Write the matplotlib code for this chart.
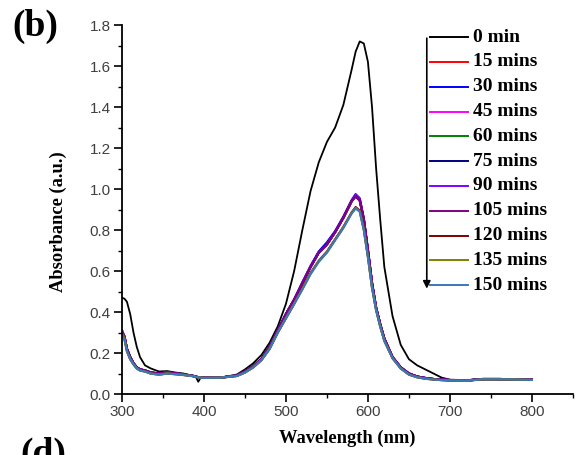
import matplotlib
matplotlib.use("Agg")
import matplotlib.pyplot as plt
from matplotlib.ticker import MultipleLocator, FormatStrFormatter

# wavelength grid (nm) used for every spectrum
wavelength = [300, 303, 306, 310, 314, 318, 322, 328, 335, 345, 355, 365, 375, 385,
              390, 393, 396, 400, 420, 440, 450, 460, 470, 480, 490, 500, 510, 520,
              530, 540, 550, 560, 570, 580, 585, 590, 595, 600, 605, 610, 615, 620,
              630, 640, 650, 660, 670, 680, 690, 700, 720, 740, 760, 780, 800]

abs_0 = [0.47, 0.465, 0.45, 0.39, 0.30, 0.23, 0.18, 0.14, 0.125, 0.11, 0.112, 0.105, 0.10, 0.09,
         0.085, 0.06, 0.08, 0.08, 0.08, 0.095, 0.12, 0.15, 0.19, 0.25, 0.33, 0.44, 0.60, 0.80,
         0.99, 1.13, 1.23, 1.30, 1.41, 1.58, 1.67, 1.72, 1.71, 1.62, 1.40, 1.10, 0.85, 0.62,
         0.38, 0.24, 0.17, 0.14, 0.12, 0.10, 0.08, 0.07, 0.068, 0.072, 0.072, 0.071, 0.07]

abs_15 = [0.31, 0.28, 0.22, 0.18, 0.15, 0.13, 0.12, 0.115, 0.105, 0.10, 0.105, 0.10, 0.095, 0.09,
          0.085, 0.082, 0.08, 0.08, 0.08, 0.09, 0.11, 0.135, 0.17, 0.23, 0.31, 0.39, 0.46, 0.54,
          0.62, 0.69, 0.735, 0.79, 0.86, 0.94, 0.97, 0.95, 0.85, 0.70, 0.54, 0.42, 0.34, 0.27,
          0.18, 0.13, 0.10, 0.085, 0.078, 0.073, 0.07, 0.068, 0.066, 0.073, 0.073, 0.072, 0.07]

abs_30 = [0.31, 0.28, 0.22, 0.18, 0.15, 0.13, 0.12, 0.115, 0.105, 0.10, 0.105, 0.10, 0.095, 0.09,
          0.085, 0.082, 0.08, 0.08, 0.08, 0.09, 0.11, 0.135, 0.17, 0.23, 0.31, 0.39, 0.46, 0.545,
          0.625, 0.695, 0.74, 0.795, 0.865, 0.945, 0.975, 0.955, 0.855, 0.70, 0.54, 0.42, 0.34, 0.27,
          0.18, 0.13, 0.10, 0.085, 0.078, 0.073, 0.07, 0.068, 0.066, 0.073, 0.073, 0.072, 0.07]

abs_45 = [0.31, 0.28, 0.22, 0.18, 0.15, 0.13, 0.12, 0.115, 0.105, 0.10, 0.105, 0.10, 0.095, 0.09,
          0.085, 0.082, 0.08, 0.08, 0.08, 0.09, 0.11, 0.135, 0.17, 0.23, 0.31, 0.39, 0.46, 0.54,
          0.62, 0.69, 0.73, 0.79, 0.86, 0.94, 0.97, 0.95, 0.85, 0.70, 0.54, 0.42, 0.34, 0.27,
          0.18, 0.13, 0.10, 0.085, 0.078, 0.073, 0.07, 0.068, 0.066, 0.073, 0.073, 0.072, 0.07]

abs_60 = [0.30, 0.28, 0.22, 0.18, 0.15, 0.13, 0.12, 0.115, 0.105, 0.10, 0.105, 0.10, 0.095, 0.09,
          0.085, 0.082, 0.08, 0.08, 0.08, 0.09, 0.11, 0.135, 0.17, 0.23, 0.31, 0.39, 0.46, 0.54,
          0.62, 0.69, 0.73, 0.79, 0.86, 0.94, 0.968, 0.948, 0.85, 0.70, 0.54, 0.42, 0.34, 0.27,
          0.18, 0.13, 0.10, 0.085, 0.078, 0.073, 0.07, 0.068, 0.066, 0.073, 0.073, 0.072, 0.07]

abs_75 = [0.30, 0.28, 0.22, 0.18, 0.15, 0.13, 0.12, 0.115, 0.105, 0.10, 0.105, 0.10, 0.095, 0.09,
          0.085, 0.082, 0.08, 0.08, 0.08, 0.09, 0.11, 0.135, 0.17, 0.23, 0.31, 0.39, 0.46, 0.54,
          0.62, 0.69, 0.73, 0.79, 0.86, 0.94, 0.966, 0.946, 0.85, 0.70, 0.54, 0.42, 0.34, 0.27,
          0.18, 0.13, 0.10, 0.085, 0.078, 0.073, 0.07, 0.068, 0.066, 0.073, 0.073, 0.072, 0.07]

abs_90 = [0.30, 0.28, 0.22, 0.18, 0.15, 0.13, 0.12, 0.115, 0.105, 0.10, 0.105, 0.10, 0.095, 0.09,
          0.085, 0.082, 0.08, 0.08, 0.08, 0.09, 0.11, 0.135, 0.17, 0.23, 0.31, 0.39, 0.46, 0.54,
          0.62, 0.69, 0.73, 0.79, 0.86, 0.94, 0.965, 0.945, 0.85, 0.70, 0.54, 0.42, 0.34, 0.27,
          0.18, 0.13, 0.10, 0.085, 0.078, 0.073, 0.07, 0.068, 0.066, 0.073, 0.073, 0.072, 0.07]

abs_105 = [0.30, 0.28, 0.22, 0.18, 0.15, 0.13, 0.12, 0.115, 0.105, 0.10, 0.105, 0.10, 0.095, 0.09,
           0.085, 0.082, 0.08, 0.08, 0.08, 0.09, 0.11, 0.135, 0.17, 0.23, 0.31, 0.39, 0.46, 0.54,
           0.62, 0.69, 0.73, 0.79, 0.86, 0.94, 0.963, 0.943, 0.85, 0.70, 0.54, 0.42, 0.34, 0.27,
           0.18, 0.13, 0.10, 0.085, 0.078, 0.073, 0.07, 0.068, 0.066, 0.073, 0.073, 0.072, 0.07]

abs_120 = [0.30, 0.27, 0.21, 0.17, 0.145, 0.125, 0.115, 0.11, 0.10, 0.095, 0.10, 0.097, 0.093, 0.088,
           0.084, 0.081, 0.08, 0.079, 0.08, 0.088, 0.105, 0.13, 0.165, 0.22, 0.30, 0.37, 0.44, 0.515,
           0.59, 0.65, 0.695, 0.755, 0.815, 0.885, 0.912, 0.895, 0.805, 0.67, 0.52, 0.41, 0.33, 0.26,
           0.175, 0.125, 0.095, 0.082, 0.075, 0.071, 0.068, 0.066, 0.065, 0.072, 0.072, 0.071, 0.069]

abs_135 = [0.295, 0.27, 0.21, 0.17, 0.145, 0.125, 0.115, 0.11, 0.10, 0.095, 0.10, 0.097, 0.093, 0.088,
           0.084, 0.081, 0.08, 0.079, 0.08, 0.088, 0.105, 0.13, 0.165, 0.22, 0.30, 0.37, 0.44, 0.512,
           0.587, 0.647, 0.692, 0.752, 0.812, 0.882, 0.908, 0.892, 0.802, 0.67, 0.52, 0.41, 0.33, 0.26,
           0.175, 0.125, 0.095, 0.082, 0.075, 0.071, 0.068, 0.066, 0.065, 0.072, 0.072, 0.071, 0.069]

abs_150 = [0.29, 0.265, 0.21, 0.17, 0.145, 0.125, 0.115, 0.11, 0.10, 0.095, 0.10, 0.097, 0.093, 0.088,
           0.084, 0.081, 0.08, 0.079, 0.08, 0.088, 0.105, 0.13, 0.165, 0.22, 0.30, 0.37, 0.44, 0.51,
           0.585, 0.645, 0.69, 0.75, 0.81, 0.88, 0.905, 0.89, 0.80, 0.67, 0.52, 0.41, 0.33, 0.26,
           0.175, 0.125, 0.095, 0.082, 0.075, 0.071, 0.068, 0.066, 0.065, 0.072, 0.072, 0.071, 0.069]

labels = ["0 min", "15 mins", "30 mins", "45 mins", "60 mins", "75 mins",
          "90 mins", "105 mins", "120 mins", "135 mins", "150 mins"]
colors = ["#000000", "#ff0000", "#0000ff", "#ff00ff", "#008000", "#000080",
          "#8000ff", "#800080", "#800000", "#808000", "#3c78b4"]
spectra = [abs_0, abs_15, abs_30, abs_45, abs_60, abs_75,
           abs_90, abs_105, abs_120, abs_135, abs_150]

fig = plt.figure(figsize=(5.81, 4.55), dpi=100)
ax = fig.add_axes([0.21, 0.134, 0.776, 0.811])

for i, (spec, col) in enumerate(zip(spectra, colors)):
    ax.plot(wavelength, spec, color=col, lw=1.3 if i == 0 else 1.6)

ax.set_xlim(300, 850)
ax.set_ylim(0, 1.8)
ax.xaxis.set_major_locator(MultipleLocator(100))
ax.xaxis.set_minor_locator(MultipleLocator(50))
ax.yaxis.set_major_locator(MultipleLocator(0.2))
ax.yaxis.set_minor_locator(MultipleLocator(0.1))
ax.yaxis.set_major_formatter(FormatStrFormatter('%.1f'))
ax.spines['top'].set_visible(False)
ax.spines['right'].set_visible(False)
for s in ['left', 'bottom']:
    ax.spines[s].set_linewidth(1.3)
ax.tick_params(which='major', direction='out', length=6, width=1.2, pad=2,
               labelsize=11, labelcolor='#404040')
ax.tick_params(which='minor', direction='out', length=3.2, width=1.0)
for t in ax.get_xticklabels() + ax.get_yticklabels():
    t.set_family('Liberation Sans')

ax.set_xlabel('Wavelength (nm)', family='Liberation Serif', fontweight='bold',
              fontsize=13.3, va='center')
ax.set_ylabel('Absorbance (a.u.)', family='Liberation Serif', fontweight='bold',
              fontsize=13.3, va='center')
ax.xaxis.set_label_coords(0.499, -0.119)
ax.yaxis.set_label_coords(-0.142, 0.466)

# custom legend with time arrow
x0, x1, xt = 0.683, 0.767, 0.778
y_top, step = 0.967, 0.0672
for i, (lab, col) in enumerate(zip(labels, colors)):
    y = y_top - i * step
    ax.plot([x0, x1], [y, y], color=col, lw=1.4, transform=ax.transAxes, clip_on=False)
    ax.text(xt, y, lab, transform=ax.transAxes, va='center', ha='left',
            family='Liberation Serif', fontweight='bold', fontsize=14)
ax.annotate('', xy=(0.676, 0.278), xytext=(0.676, 0.972), xycoords='axes fraction',
            arrowprops=dict(arrowstyle='-|>', color='black', lw=1.2, mutation_scale=11))

fig.text(0.022, 0.98, '(b)', family='Liberation Serif', fontweight='bold',
         fontsize=27, va='top', ha='left')
fig.text(0.035, 0.04, '(d)', family='Liberation Serif', fontweight='bold',
         fontsize=27, va='top', ha='left')

fig.savefig('out.png', dpi=100)
